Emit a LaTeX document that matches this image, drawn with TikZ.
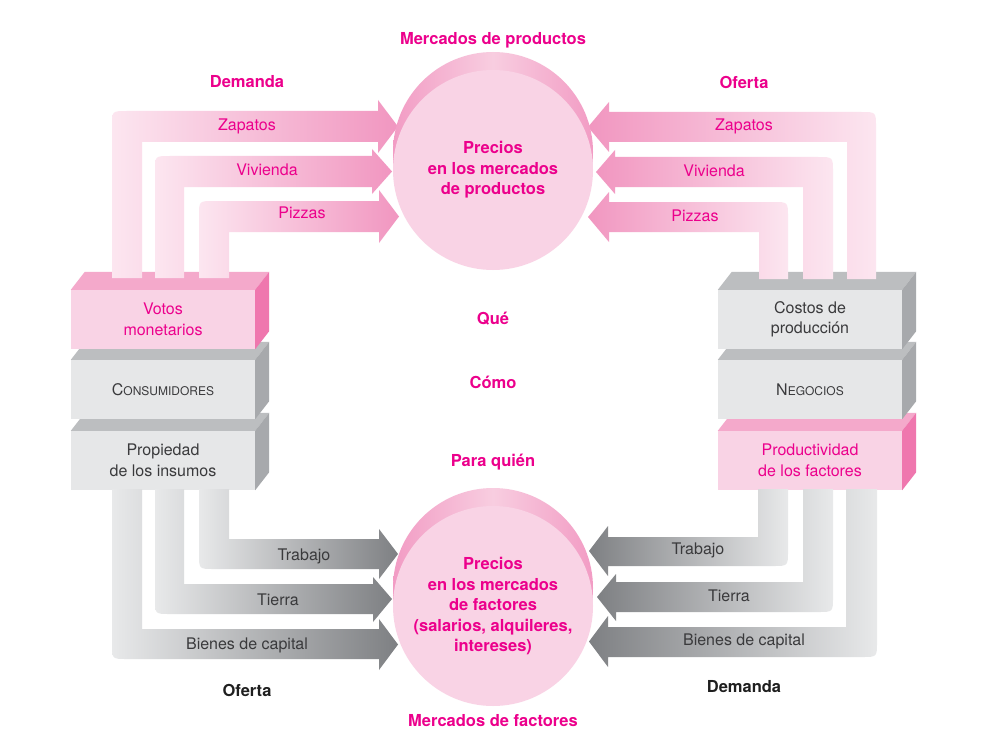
\documentclass[tikz,border=0pt]{standalone}
\usepackage{fontspec}
\setmainfont{TeX Gyre Heros}
\usepackage{xcolor}
\usetikzlibrary{calc,positioning}
\definecolor{mag}{HTML}{EC008C}
\definecolor{txtgrey}{HTML}{3A3A3C}
\definecolor{pinkfront}{HTML}{F9D3E5}
\definecolor{pinktop}{HTML}{F4A9CB}
\definecolor{pinkside}{HTML}{EF77AE}
\definecolor{greyfront}{HTML}{E6E7E8}
\definecolor{greytop}{HTML}{BCBEC0}
\definecolor{greyside}{HTML}{A7A9AC}
\definecolor{flowpinklight}{HTML}{FCE6F0}
\definecolor{flowpinkdark}{HTML}{F196C0}
\definecolor{flowgreylight}{HTML}{E8E9EA}
\definecolor{flowgreydark}{HTML}{7E8083}
\definecolor{discedge}{HTML}{F29CC4}
\definecolor{discmid}{HTML}{F8CDE0}
\tikzset{
  lab/.style={font=\fontsize{16}{20.5}\selectfont, align=center, inner sep=0pt},
  pinklab/.style={lab, text=mag},
  greylab/.style={lab, text=txtgrey},
  head/.style={font=\bfseries\fontsize{16.5}{20.5}\selectfont, text=mag, align=center, inner sep=0pt},
  headblack/.style={head, text=black!88},
  pinkbox/.style={rectangle, fill=pinkfront, minimum width=184pt, minimum height=59pt,
    inner sep=0pt, lab, text=mag},
  greybox/.style={rectangle, fill=greyfront, minimum width=184pt, minimum height=59pt,
    inner sep=0pt, lab, text=txtgrey},
  disc/.style={circle, fill=pinkfront, minimum size=200pt, inner sep=0pt, head},
  backdisc/.style={left color=discedge, right color=discedge, middle color=discmid},
  pinkright/.style={left color=flowpinklight, right color=flowpinkdark},
  pinkleft/.style={left color=flowpinkdark, right color=flowpinklight},
  greyright/.style={left color=flowgreylight, right color=flowgreydark},
  greyleft/.style={left color=flowgreydark, right color=flowgreylight}
}
% top and side faces of a box
\newcommand{\boxsides}[3]{%
  \fill[#2] (#1.north west) -- ++(14,-18) -- ($(#1.north east)+(14,-18)$) -- (#1.north east) -- cycle;
  \fill[#3] (#1.north east) -- ++(14,-18) -- ($(#1.south east)+(14,-18)$) -- (#1.south east) -- cycle;}
\newcommand{\smc}[1]{{\fontsize{12}{14}\selectfont #1}}

\begin{document}
\begin{tikzpicture}[x=1pt,y=-1pt]
\fill[white] (0,0) rectangle (1004,741);
\useasboundingbox (0,0) rectangle (1004,741);

% households
\node[greybox] (propiedad) at (163,460.5) {Propiedad\\de los insumos};
\boxsides{propiedad}{greytop}{greyside}
\node[greybox] (consum) at (163,389.5) {C\smc{ONSUMIDORES}};
\boxsides{consum}{greytop}{greyside}
\node[pinkbox] (votos) at (163,319.5) {Votos\\monetarios};
\boxsides{votos}{pinktop}{pinkside}

% firms
\node[pinkbox] (productiv) at (810,460.5) {Productividad\\de los factores};
\boxsides{productiv}{pinktop}{pinkside}
\node[greybox] (negocios) at (810,389.5) {N\smc{EGOCIOS}};
\boxsides{negocios}{greytop}{greyside}
\node[greybox] (costos) at (810,319.5) {Costos de\\producción};
\boxsides{costos}{greytop}{greyside}

% demand for products (top left)
\shade[pinkright] (142,278) -- (112,278) -- (112,126) .. controls (112,111) .. (127,111) -- (378,111) -- (378,100) -- (398,126.5) -- (378,153) -- (378,142) -- (142,142) -- cycle;
\shade[pinkright] (184,278) -- (155,278) -- (155,171) .. controls (155,156) .. (170,156) -- (372,156) -- (372,149) -- (392,171.5) -- (372,194) -- (372,187) -- (184,187) -- cycle;
\shade[pinkright] (229,278) -- (199,278) -- (199,216) .. controls (199,201) .. (214,201) -- (379,201) -- (379,190) -- (399,216.5) -- (379,243) -- (379,232) -- (229,232) -- cycle;

% supply of products (top right)
\shade[pinkleft] (847,279) -- (847,142) -- (609,142) -- (609,152) -- (588,127) -- (609,102) -- (609,112) -- (861,112) .. controls (876,112) .. (876,127) -- (876,279) -- cycle;
\shade[pinkleft] (803,279) -- (803,187) -- (615,187) -- (615,194) -- (596,172) -- (615,150) -- (615,157) -- (818,157) .. controls (833,157) .. (833,172) -- (833,279) -- cycle;
\shade[pinkleft] (759,279) -- (759,232) -- (609,232) -- (609,242) -- (588,217) -- (609,192) -- (609,202) -- (773,202) .. controls (788,202) .. (788,217) -- (788,279) -- cycle;

% supply of factors (bottom left)
\shade[greyright] (229,489) -- (229,539) -- (379,539) -- (379,529) -- (398,554) -- (379,579) -- (379,569) -- (214,569) .. controls (199,569) .. (199,554) -- (199,489) -- cycle;
\shade[greyright] (184,489) -- (184,584) -- (373,584) -- (373,577) -- (392,599) -- (373,622) -- (373,614) -- (170,614) .. controls (155,614) .. (155,599) -- (155,489) -- cycle;
\shade[greyright] (142,489) -- (142,629) -- (379,629) -- (379,619) -- (398,644.5) -- (379,670) -- (379,659) -- (127,659) .. controls (112,659) .. (112,644) -- (112,489) -- cycle;

% demand for factors (bottom right)
\shade[greyleft] (758,489) -- (758,537) -- (608,537) -- (608,526) -- (589,551) -- (608,576) -- (608,566) -- (773,566) .. controls (788,566) .. (788,551) -- (788,489) -- cycle;
\shade[greyleft] (803,489) -- (803,582) -- (616,582) -- (616,574) -- (597,597) -- (616,621) -- (616,612) -- (818,612) .. controls (833,612) .. (833,597) -- (833,489) -- cycle;
\shade[greyleft] (846,489) -- (846,627) -- (608,627) -- (608,616) -- (589,641.5) -- (608,667) -- (608,657) -- (862,657) .. controls (877,657) .. (877,642) -- (877,489) -- cycle;

% markets
\coordinate (prodc) at (493,170);
\shade[backdisc] ($(prodc)+(0,-18)$) circle[radius=100pt];
\node[disc] (prodmkt) at (prodc) {Precios\\en los mercados\\de productos};
\coordinate (factc) at (493,606);
\shade[backdisc] ($(factc)+(0,-18)$) circle[radius=100pt];
\node[disc] (factmkt) at (factc) {Precios\\en los mercados\\de factores\\(salarios, alquileres,\\intereses)};

% flow labels
\node[pinklab] (zapd) at (247,126) {Zapatos};
\node[pinklab] (vivd) at (267,170) {Vivienda};
\node[pinklab] (pizd) at (302,213) {Pizzas};
\node[pinklab] (zapo) at (744,126) {Zapatos};
\node[pinklab] (vivo) at (714,171) {Vivienda};
\node[pinklab] (pizo) at (695,216) {Pizzas};
\node[greylab] (trabo) at (304,556) {Trabajo};
\node[greylab] (tierro) at (278,600) {Tierra};
\node[greylab] (bieno) at (247,645) {Bienes de capital};
\node[greylab] (trabd) at (698,550) {Trabajo};
\node[greylab] (tierrd) at (729,596) {Tierra};
\node[greylab] (biend) at (744,641) {Bienes de capital};

% headings
\node[head] (prodname) at (493,40) {Mercados de productos};
\node[head] (factname) at (493,721) {Mercados de factores};
\node[head] (demprod) at (247,82) {Demanda};
\node[head] (ofprod) at (744,82) {Oferta};
\node[head] (que) at (493,319) {Qué};
\node[head] (como) at (493,382) {Cómo};
\node[head] (quien) at (493,462) {Para quién};
\node[headblack] (offact) at (247,690) {Oferta};
\node[headblack] (demfact) at (744,687) {Demanda};
\end{tikzpicture}
\end{document}
